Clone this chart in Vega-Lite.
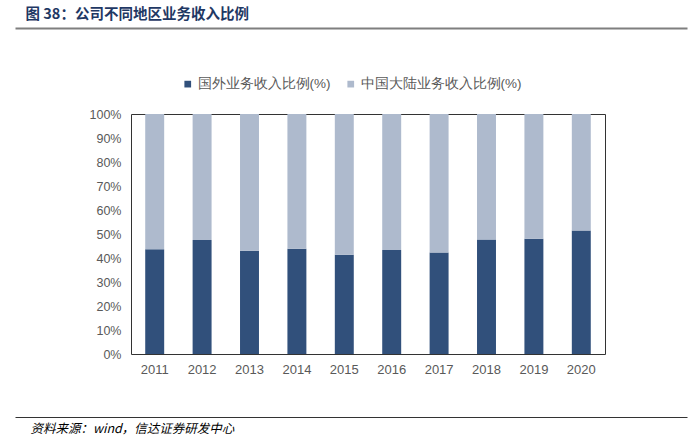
{
  "$schema": "https://vega.github.io/schema/vega-lite/v6.json",
  "width": 474,
  "height": 240,
  "autosize": {"type": "none"},
  "padding": {"left": 131, "top": 114, "right": 91, "bottom": 85},
  "background": "white",
  "config": {
    "view": {"stroke": "#333333", "strokeWidth": 1},
    "font": "Liberation Sans",
    "axis": {"grid": false, "ticks": false}
  },
  "data": {
    "values": [
      {"year": "2011", "region": "国外业务收入比例(%)", "value": 43.6},
      {"year": "2012", "region": "国外业务收入比例(%)", "value": 47.5},
      {"year": "2013", "region": "国外业务收入比例(%)", "value": 43.0},
      {"year": "2014", "region": "国外业务收入比例(%)", "value": 43.9},
      {"year": "2015", "region": "国外业务收入比例(%)", "value": 41.4},
      {"year": "2016", "region": "国外业务收入比例(%)", "value": 43.3},
      {"year": "2017", "region": "国外业务收入比例(%)", "value": 42.3},
      {"year": "2018", "region": "国外业务收入比例(%)", "value": 47.7},
      {"year": "2019", "region": "国外业务收入比例(%)", "value": 48.0},
      {"year": "2020", "region": "国外业务收入比例(%)", "value": 51.5},
      {"year": "2011", "region": "中国大陆业务收入比例(%)", "value": 56.4},
      {"year": "2012", "region": "中国大陆业务收入比例(%)", "value": 52.5},
      {"year": "2013", "region": "中国大陆业务收入比例(%)", "value": 57.0},
      {"year": "2014", "region": "中国大陆业务收入比例(%)", "value": 56.1},
      {"year": "2015", "region": "中国大陆业务收入比例(%)", "value": 58.6},
      {"year": "2016", "region": "中国大陆业务收入比例(%)", "value": 56.7},
      {"year": "2017", "region": "中国大陆业务收入比例(%)", "value": 57.7},
      {"year": "2018", "region": "中国大陆业务收入比例(%)", "value": 52.3},
      {"year": "2019", "region": "中国大陆业务收入比例(%)", "value": 52.0},
      {"year": "2020", "region": "中国大陆业务收入比例(%)", "value": 48.5}
    ]
  },
  "resolve": {
    "scale": {"x": "independent", "y": "independent"},
    "axis": {"x": "independent", "y": "independent"}
  },
  "layer": [
    {
      "mark": {"type": "bar"},
      "encoding": {
        "x": {
          "field": "year",
          "type": "nominal",
          "scale": {"paddingInner": 0.6, "paddingOuter": 0.3},
          "axis": {
            "orient": "bottom",
            "title": null,
            "labelAngle": 0,
            "labelFontSize": 13,
            "labelColor": "#595959",
            "labelPadding": 9,
            "domain": false
          }
        },
        "y": {
          "field": "value",
          "type": "quantitative",
          "stack": "zero",
          "scale": {"domain": [0, 100], "nice": false},
          "axis": {
            "orient": "left",
            "title": null,
            "values": [0, 10, 20, 30, 40, 50, 60, 70, 80, 90, 100],
            "labelExpr": "datum.value + '%'",
            "labelFontSize": 12.5,
            "labelColor": "#595959",
            "labelPadding": 10,
            "domain": false
          }
        },
        "color": {
          "field": "region",
          "type": "nominal",
          "sort": ["国外业务收入比例(%)", "中国大陆业务收入比例(%)"],
          "scale": {
            "domain": ["国外业务收入比例(%)", "中国大陆业务收入比例(%)"],
            "range": ["#31507b", "#aebacd"]
          },
          "legend": {
            "orient": "none",
            "direction": "horizontal",
            "legendX": 50,
            "legendY": -37,
            "title": null,
            "symbolType": "square",
            "symbolSize": 45,
            "symbolStrokeWidth": 0,
            "labelFontSize": 13.5,
            "labelColor": "#595959",
            "labelFont": "Liberation Sans",
            "labelLimit": 300,
            "labelOffset": 3,
            "columnPadding": 13,
            "padding": 0
          }
        }
      }
    },
    {
      "mark": {"type": "tick", "opacity": 0},
      "encoding": {
        "x": {
          "field": "value",
          "type": "quantitative",
          "scale": {"range": [-116, 556]},
          "axis": {
            "orient": "top",
            "offset": 86,
            "labels": false,
            "ticks": false,
            "grid": false,
            "domainColor": "#7f7f7f",
            "domainWidth": 2,
            "title": "图 38：公司不同地区业务收入比例",
            "titleFont": "Noto Sans CJK SC",
            "titleFontSize": 14.5,
            "titleFontWeight": "bold",
            "titleColor": "#1f3864",
            "titleAlign": "left",
            "titleBaseline": "middle",
            "titleAnchor": "start",
            "titleX": -106,
            "titleY": -14
          }
        }
      }
    },
    {
      "mark": {"type": "tick", "opacity": 0},
      "encoding": {
        "x": {
          "field": "value",
          "type": "quantitative",
          "scale": {"range": [-116, 556]},
          "axis": {
            "orient": "bottom",
            "offset": 63,
            "labels": false,
            "ticks": false,
            "grid": false,
            "domainColor": "#333333",
            "domainWidth": 1,
            "title": "资料来源：wind，信达证券研发中心",
            "titleFont": "Noto Sans CJK SC",
            "titleFontSize": 12.5,
            "titleFontWeight": "normal",
            "titleFontStyle": "italic",
            "titleColor": "#000000",
            "titleAlign": "left",
            "titleBaseline": "middle",
            "titleAnchor": "start",
            "titleX": -101,
            "titleY": 11
          }
        }
      }
    }
  ]
}
